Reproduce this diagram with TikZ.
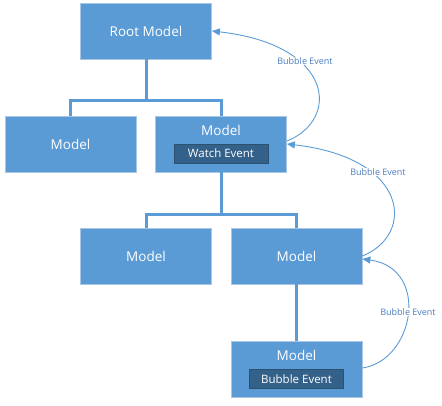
\documentclass[tikz,border=0pt]{standalone}
\usepackage{fontspec}
\setmainfont{Open Sans}
\usetikzlibrary{arrows.meta}
\definecolor{boxblue}{HTML}{5B9BD5}
\definecolor{boxedge}{HTML}{A9C6E6}
\definecolor{innerfill}{HTML}{34618A}
\definecolor{inneredge}{HTML}{2B5070}
\definecolor{lblcol}{HTML}{4A7EC0}
\tikzset{
  model/.style={rectangle, fill=boxblue, draw=boxedge, line width=0.8pt, minimum width=131pt, minimum height=56pt, inner sep=0pt},
  modeltext/.style={text=white, font=\fontsize{13.5}{16}\selectfont, inner sep=0pt},
  inner/.style={rectangle, fill=innerfill, draw=inneredge, line width=0.6pt, minimum width=94pt, minimum height=19pt, inner sep=0pt, text=white, font=\fontsize{11.5}{13}\selectfont},
  tree/.style={draw=boxblue, line width=3pt},
  bubble/.style={draw=boxblue, line width=0.9pt, -{Triangle[length=8pt,width=7pt]}},
  bubblelabel/.style={fill=white, text=lblcol, font=\fontsize{9}{11}\selectfont, inner sep=1pt}
}
\begin{document}
\begin{tikzpicture}[x=1pt,y=-1pt]
\useasboundingbox (0,0) rectangle (442,406);
% boxes
\node[model] (root) at (146,31) {};
\node[modeltext] (roott) at (146,31) {Root Model};
\node[model] (l1a) at (70.5,144) {};
\node[modeltext] (l1at) at (70.5,144) {Model};
\node[model] (l1b) at (221,144) {};
\node[modeltext] (l1bt) at (221,130) {Model};
\node[inner] (watch) at (221,153.5) {Watch Event};
\node[model] (l2a) at (146,256) {};
\node[modeltext] (l2at) at (146,256) {Model};
\node[model] (l2b) at (296.5,256) {};
\node[modeltext] (l2bt) at (296.5,256) {Model};
\node[model] (l3) at (296.5,369) {};
\node[modeltext] (l3t) at (296.5,355) {Model};
\node[inner] (bub) at (296.5,379) {Bubble Event};
% tree connectors
\draw[tree] (root.south) -- ++(0,41) -| (l1a.north);
\draw[tree] (root.south) -- ++(0,41) -| (l1b.north);
\draw[tree] (l1b.south) -- ++(0,42) -| (l2a.north);
\draw[tree] (l1b.south) -- ++(0,42) -| (l2b.north);
\draw[tree] (l2b.south) -- (l3.north);
% bubble arrows
\draw[bubble] ([yshift=3pt]l1b.east) .. controls (340,120) and (335,45) .. (root.east);
\draw[bubble] (l2b.east) .. controls (415,235) and (410,158) .. (l1b.east);
\draw[bubble] ([yshift=1pt]l3.east) .. controls (415,360) and (430,268) .. ([yshift=-3pt]l2b.east);
% labels
\node[bubblelabel] (lb1) at (305,61) {Bubble Event};
\node[bubblelabel] (lb2) at (378,172) {Bubble Event};
\node[bubblelabel] (lb3) at (408,312) {Bubble Event};
\end{tikzpicture}
\end{document}
